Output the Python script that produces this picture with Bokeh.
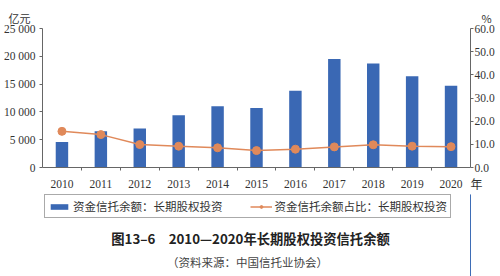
from bokeh.plotting import figure
from bokeh.layouts import column
from bokeh.models import (Range1d, LinearAxis, FixedTicker, Title, Legend, LegendItem,
                          ColumnDataSource, Label)
from bokeh.embed import file_html
from bokeh.resources import INLINE

years = [2010, 2011, 2012, 2013, 2014, 2015, 2016, 2017, 2018, 2019, 2020]
balance = [4600, 6500, 7000, 9400, 11000, 10700, 13800, 19500, 18700, 16400, 14700]
share = [15.6, 14.2, 9.9, 9.2, 8.5, 7.3, 7.9, 8.9, 9.8, 9.2, 9.0]
left_ticks = [0, 5000, 10000, 15000, 20000, 25000]
left_tick_labels = ["0", "5 000", "10 000", "15 000", "20 000", "25 000"]
right_ticks = [0, 10, 20, 30, 40, 50, 60]
right_tick_labels = ["0.0", "10.0", "20.0", "30.0", "40.0", "50.0", "60.0"]
left_unit = "亿元"
right_unit = "%"
x_unit = "年"
bar_name = "资金信托余额：长期股权投资"
line_name = "资金信托余额占比：长期股权投资"
title_text = "图13–6　2010—2020年长期股权投资信托余额"
source_text = "（资料来源：中国信托业协会）"

BLUE = "#3A68B4"
ORANGE = "#E0895A"
TXT = "#333333"
AX = "#666666"
SERIF = "Liberation Serif"
CJK = "Noto Sans CJK SC"

src = ColumnDataSource(dict(year=years, balance=balance, share=share))

# ---------------- main chart ----------------
p = figure(width=500, height=194, output_backend="svg", toolbar_location=None,
           x_range=Range1d(years[0] - 0.5, years[-1] + 0.5),
           y_range=Range1d(0, 25000),
           min_border_left=42, min_border_right=30, min_border_top=28,
           min_border_bottom=27)
p.extra_y_ranges = {"pct": Range1d(0, 60)}
p.outline_line_color = None
p.xgrid.visible = False
p.ygrid.visible = False

bars = p.vbar(x="year", top="balance", width=0.32, source=src, fill_color=BLUE,
              line_color=None)
ln = p.line(x="year", y="share", source=src, y_range_name="pct", line_color=ORANGE,
            line_width=1.5)
dots = p.scatter(x="year", y="share", source=src, y_range_name="pct", size=8,
                 fill_color=ORANGE, line_color=ORANGE)

xa = p.xaxis[0]
xa.ticker = FixedTicker(ticks=years, minor_ticks=[y + 0.5 for y in years[:-1]])
xa.major_label_overrides = {y: str(y) for y in years}
xa.major_tick_out = 0
xa.major_tick_in = 0
xa.minor_tick_out = 3
xa.minor_tick_in = 0
xa.major_label_standoff = 9
xa.axis_line_color = AX
xa.minor_tick_line_color = AX
xa.major_label_text_font = SERIF
xa.major_label_text_font_size = "11.5px"
xa.major_label_text_color = TXT
xa.axis_label = "\u3000" + x_unit
xa.axis_label_align = "end"
xa.axis_label_standoff = -16
xa.axis_label_text_font = CJK
xa.axis_label_text_font_size = "12px"
xa.axis_label_text_font_style = "normal"
xa.axis_label_text_color = TXT

ya = p.yaxis[0]
ya.ticker = FixedTicker(ticks=left_ticks, minor_ticks=[])
ya.major_label_overrides = dict(zip(left_ticks, left_tick_labels))
ya.major_tick_out = 3
ya.major_tick_in = 0
ya.major_label_standoff = 4
ya.axis_line_color = AX
ya.major_tick_line_color = AX
ya.major_label_text_font = SERIF
ya.major_label_text_font_size = "11.5px"
ya.major_label_text_color = TXT

ra = LinearAxis(y_range_name="pct", ticker=FixedTicker(ticks=right_ticks, minor_ticks=[]))
ra.major_label_overrides = dict(zip(right_ticks, right_tick_labels))
ra.major_tick_out = 3
ra.major_tick_in = 0
ra.major_label_standoff = 1
ra.axis_line_color = AX
ra.major_tick_line_color = AX
ra.major_label_text_font = SERIF
ra.major_label_text_font_size = "11.5px"
ra.major_label_text_color = TXT
p.add_layout(ra, "right")

p.add_layout(Title(text=left_unit + "\u3000" * 41 + right_unit, align="left", offset=-34,
                   text_font=CJK, text_font_size="11px", text_font_style="normal",
                   text_color=TXT, standoff=6), "above")

# ---------------- legend + caption strip ----------------
# the column aligns this strip's frame with the chart's frame (x 42..470)
H2 = 82
p2 = figure(width=500, height=H2, output_backend="svg", toolbar_location=None,
            x_range=Range1d(42, 470), y_range=Range1d(0, H2),
            x_axis_location=None, y_axis_location=None,
            min_border=0, outline_line_color=None)
p2.grid.visible = False
# same series drawn again, lying outside this strip's ranges, only to feed the legend
lb = p2.vbar(x="year", top="balance", width=0.32, source=src, fill_color=BLUE,
             line_color=None)
ll = p2.line(x="year", y="share", source=src, line_color=ORANGE, line_width=1.5)
ld = p2.scatter(x="year", y="share", source=src, size=7, fill_color=ORANGE,
                line_color=ORANGE)

legend = Legend(items=[LegendItem(label=bar_name, renderers=[lb]),
                       LegendItem(label=line_name, renderers=[ll, ld])],
                location=(2, 58), orientation="horizontal",
                padding=3, spacing=27, margin=0,
                glyph_width=22, glyph_height=7, label_height=12,
                label_standoff=3,
                label_text_font=CJK, label_text_font_size="11.5px",
                label_text_color=TXT,
                border_line_color="#555555", border_line_width=1,
                background_fill_color="white", background_fill_alpha=1)
p2.add_layout(legend, "center")

p2.add_layout(Label(x=250, y=H2 - 44, text=title_text, text_align="center",
                    text_baseline="middle", text_font=CJK, text_font_size="13.3px",
                    text_font_style="bold", text_color="#222222"))
p2.add_layout(Label(x=247, y=H2 - 67, text=source_text, text_align="center",
                    text_baseline="middle", text_font=CJK, text_font_size="11.5px",
                    text_color="#444444"))

layout = column(p, p2, spacing=0)
open("out.html", "w").write(file_html(layout, INLINE))
